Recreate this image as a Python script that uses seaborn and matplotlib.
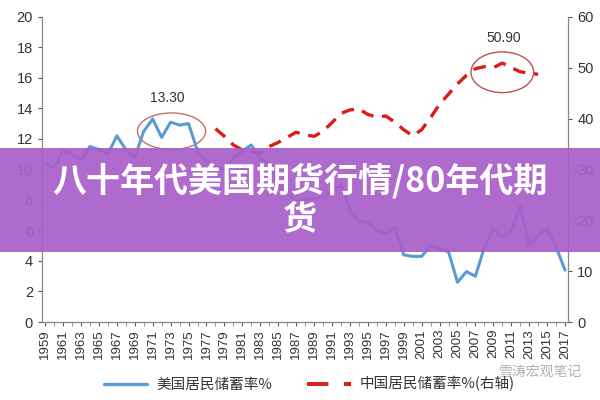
import seaborn as sns
import matplotlib.pyplot as plt
import pandas as pd
from matplotlib.patches import Ellipse, Rectangle
from matplotlib.lines import Line2D

# US personal saving rate (left axis), 1959-2017
us_years = list(range(1959, 2018))
us_rate = [10.4, 10.1, 11.2, 11.0, 10.6, 11.5, 11.3, 11.0, 12.2, 11.3,
           10.8, 12.5, 13.3, 12.1, 13.1, 12.9, 13.0, 11.2, 10.5, 10.2,
           10.0, 10.7, 11.2, 11.6, 10.7, 10.4, 9.0, 8.5, 7.9, 8.0,
           8.1, 8.2, 8.6, 9.0, 7.3, 6.6, 6.5, 6.0, 5.8, 6.2,
           4.4, 4.3, 4.3, 5.0, 4.8, 4.6, 2.6, 3.3, 3.0, 4.9,
           6.1, 5.6, 6.0, 7.6, 5.0, 5.7, 6.1, 4.9, 3.4]

# China household saving rate (right axis), 1978-2014
cn_years = list(range(1978, 2015))
cn_rate = [38.0, 36.5, 34.8, 33.8, 33.5, 33.2, 34.5, 35.3, 36.3, 37.3,
           36.8, 36.5, 37.5, 39.2, 41.0, 41.7, 41.9, 40.8, 40.3, 40.5,
           39.3, 37.8, 36.6, 37.8, 40.2, 42.8, 44.8, 46.8, 48.5, 49.8,
           50.2, 50.0, 50.9, 50.0, 49.2, 48.9, 48.7]

us_label = '美国居民储蓄率%'
cn_label = '中国居民储蓄率%(右轴)'
title = '八十年代美国期货行情/80年代期\n货'

us_df = pd.DataFrame({'year': us_years, 'rate': us_rate})
cn_df = pd.DataFrame({'year': cn_years, 'rate': cn_rate})

sns.set_style('ticks')
plt.rcParams['font.family'] = ['Liberation Sans', 'Noto Sans CJK SC', 'DejaVu Sans']

blue = '#5B9BD5'
red = '#DD1C1A'
grey = '#595959'

fig, ax = plt.subplots(figsize=(6, 4), dpi=100)
fig.subplots_adjust(left=0.07, right=0.947, bottom=0.195, top=0.958)
ax2 = ax.twinx()

sns.lineplot(data=us_df, x='year', y='rate', ax=ax, color=blue, linewidth=2.2)
sns.lineplot(data=cn_df, x='year', y='rate', ax=ax2, color=red, linewidth=2.4,
             dashes=False)
ax2.lines[0].set_dashes([3.8, 2.6])

ax.set_xlim(1958.65, 2017.35)
ax.set_ylim(0, 20)
ax2.set_ylim(0, 60)
ax.set_yticks(range(0, 21, 2))
ax2.set_yticks(range(0, 61, 10))
ax.set_xticks(range(1959, 2018, 2))
ax.set_xticks(range(1959, 2018), minor=True)
ax.set_xticklabels([str(y) for y in range(1959, 2018, 2)], rotation=90)
ax.set_xlabel('')
ax.set_ylabel('')
ax2.set_ylabel('')

for a in (ax, ax2):
    a.spines['top'].set_visible(False)
    for s in a.spines.values():
        s.set_color('#868686')
    a.tick_params(colors=grey, labelcolor='#333333', length=3, width=0.8)
    a.tick_params(axis='x', which='minor', length=3, color='#868686')
ax.tick_params(axis='y', labelsize=10.5)
ax2.tick_params(axis='y', labelsize=10.5)
ax.tick_params(axis='x', labelsize=9.5, pad=2)

# peak annotations
i = us_rate.index(max(us_rate))
py, pv = us_years[i], us_rate[i]
ax.text(py + 1.6, pv + 1.35, f'{pv:.2f}', ha='center', va='center',
        fontsize=10, color='#333333')
ax.add_patch(Ellipse((py + 2.1, pv - 0.8), 7.6, 2.4, fill=False,
                     edgecolor='#C0706A', linewidth=1))
j = cn_rate.index(max(cn_rate))
cy, cv = cn_years[j], cn_rate[j]
ax2.text(cy + 0.2, cv + 4.9, f'{cv:.2f}', ha='center', va='center',
         fontsize=10, color='#333333')
ax2.add_patch(Ellipse((cy, cv - 1.8), 7.0, 8.0, fill=False,
                      edgecolor='#C0504D', linewidth=1))

# legend
handles = [Line2D([], [], color=blue, linewidth=2.4),
           Line2D([], [], color=red, linewidth=2.8, dashes=[5.5, 4])]
fig.legend(handles, [us_label, cn_label], loc='center', ncol=2,
           bbox_to_anchor=(0.515, 0.04), frameon=False, handlelength=3.0,
           columnspacing=2.4, handletextpad=0.6,
           prop={'family': ['Noto Sans CJK SC'], 'size': 10.5})
for t in fig.legends[0].get_texts():
    t.set_color('#333333')

# watermark
fig.text(0.97, 0.07, '雪涛宏观笔记', ha='right', va='center', fontsize=10,
         color='#B0B0B0', family=['Noto Sans CJK SC'])

# purple banner over the chart
fig.patches.append(Rectangle((0, 0.37), 1, 0.26, transform=fig.transFigure,
                             facecolor='#A85FC9', alpha=0.93, zorder=5,
                             edgecolor='none'))
fig.text(0.5, 0.5, title, ha='center', va='center', fontsize=24.5,
         color='white', fontweight='heavy', linespacing=1.1,
         multialignment='center', family=['Noto Sans CJK SC'], zorder=6)

plt.savefig('out.png', dpi=100)
